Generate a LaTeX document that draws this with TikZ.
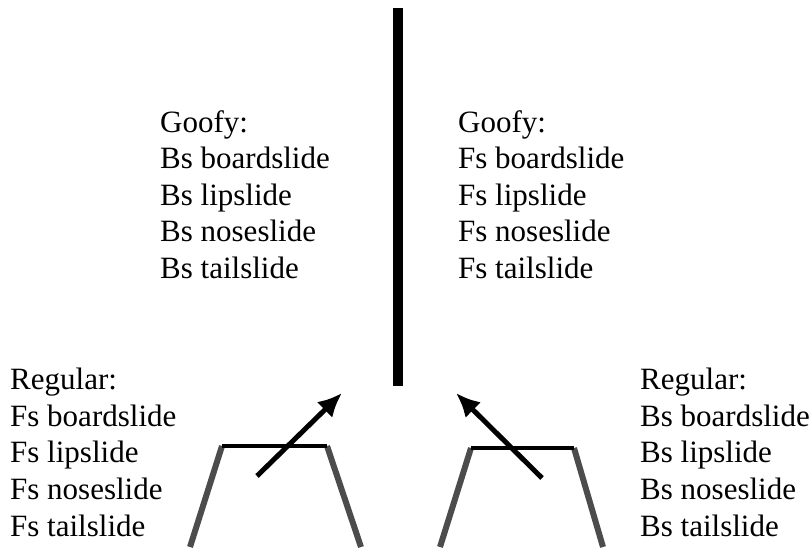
\documentclass[tikz,border=0pt]{standalone}
\usepackage{fontspec}
\setmainfont{Liberation Serif}
\usetikzlibrary{arrows.meta}
\tikzset{
  trick/.style={align=left,anchor=north west,inner sep=0pt,font=\fontsize{31}{36.6}\selectfont},
  leg/.style={black!70,line width=6pt},
  deck/.style={black,line width=3.5pt},
  spin/.style={line width=5pt,-{Latex[length=24pt,width=22pt]}}
}
\begin{document}
\begin{tikzpicture}[x=1pt,y=-1pt]
  \useasboundingbox (0,0) rectangle (809,547);
  % the rail
  \fill[black] (393,8) rectangle (403,386);
  % goofy stance
  \node[trick] (goofyl) at (160,110) {Goofy:\\Bs boardslide\\Bs lipslide\\Bs noseslide\\Bs tailslide};
  \node[trick] (goofyr) at (458,110) {Goofy:\\Fs boardslide\\Fs lipslide\\Fs noseslide\\Fs tailslide};
  % regular stance
  \node[trick] (regl) at (10,368) {Regular:\\Fs boardslide\\Fs lipslide\\Fs noseslide\\Fs tailslide};
  \node[trick] (regr) at (640,368) {Regular:\\Bs boardslide\\Bs lipslide\\Bs noseslide\\Bs tailslide};
  % left box
  \draw[leg] (222,446) -- (190,547);
  \draw[leg] (327,446) -- (361,547);
  \draw[deck] (222,446) -- (327,446);
  % right box
  \draw[leg] (471,448) -- (440,547);
  \draw[leg] (574,448) -- (603,547);
  \draw[deck] (471,448) -- (574,448);
  % approach arrows
  \coordinate (ltail) at (257,476);
  \coordinate (ltip) at (342,393);
  \coordinate (rtail) at (542,478);
  \coordinate (rtip) at (456,393);
  \draw[spin] (ltail) -- (ltip);
  \draw[spin] (rtail) -- (rtip);
\end{tikzpicture}
\end{document}
